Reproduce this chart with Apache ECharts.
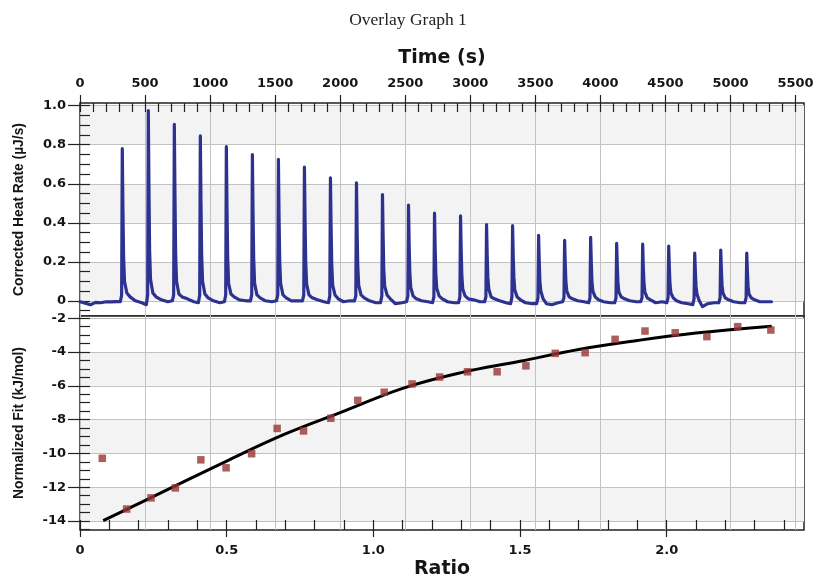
<!DOCTYPE html>
<html>
<head>
<meta charset="utf-8">
<script src="https://cdn.jsdelivr.net/npm/echarts@6/dist/echarts.min.js"></script>
<style>
html,body{margin:0;padding:0;background:#ffffff;}
#chart{width:816px;height:582px;}
</style>
</head>
<body>
<div id="chart"></div>
<script>
// ---------- text ----------
const chartTitle = 'Overlay Graph 1';
const timeAxisName = 'Time (s)';
const ratioAxisName = 'Ratio';
const heatAxisName = 'Corrected Heat Rate (\u00b5J/s)';
const fitAxisName = 'Normalized Fit (kJ/mol)';

// ---------- tick labels ----------
const timeTicks = [0, 500, 1000, 1500, 2000, 2500, 3000, 3500, 4000, 4500, 5000, 5500];
const heatTicks = [0, 0.2, 0.4, 0.6, 0.8, 1.0];
const ratioTicks = [0, 0.5, 1.0, 1.5, 2.0];
const fitTicks = [-14, -12, -10, -8, -6, -4, -2];

// ---------- axis ranges ----------
const timeRange = [0, 5565];
const heatRange = [-0.078, 1.014];
const ratioRange = [0, 2.468];
const fitRange = [-14.53, -1.87];

// ---------- raw thermogram (time s, heat rate uJ/s) ----------
const heatTime = [
  0, 40, 80, 120, 160, 200, 240, 280,
  310, 320, 325, 330, 335, 342, 360, 385, 425, 475,
  510, 520, 525, 530, 535, 542, 560, 585, 625, 675,
  710, 720, 725, 730, 735, 742, 760, 785, 825, 875,
  910, 920, 925, 930, 935, 942, 960, 985, 1025, 1075,
  1110, 1120, 1125, 1130, 1135, 1142, 1160, 1185, 1225, 1275,
  1310, 1320, 1325, 1330, 1335, 1342, 1360, 1385, 1425, 1475,
  1510, 1520, 1525, 1530, 1535, 1542, 1560, 1585, 1625, 1675,
  1710, 1720, 1725, 1730, 1735, 1742, 1760, 1785, 1825, 1875,
  1910, 1920, 1925, 1930, 1935, 1942, 1960, 1985, 2025, 2075,
  2110, 2120, 2125, 2130, 2135, 2142, 2160, 2185, 2225, 2275,
  2310, 2320, 2325, 2330, 2335, 2342, 2360, 2385, 2425, 2475,
  2510, 2520, 2525, 2530, 2535, 2542, 2560, 2585, 2625, 2675,
  2710, 2720, 2725, 2730, 2735, 2742, 2760, 2785, 2825, 2875,
  2910, 2920, 2925, 2930, 2935, 2942, 2960, 2985, 3025, 3075,
  3110, 3120, 3125, 3130, 3135, 3142, 3160, 3185, 3225, 3275,
  3310, 3320, 3325, 3330, 3335, 3342, 3360, 3385, 3425, 3475,
  3510, 3520, 3525, 3530, 3535, 3542, 3560, 3585, 3625, 3675,
  3710, 3720, 3725, 3730, 3735, 3742, 3760, 3785, 3825, 3875,
  3910, 3920, 3925, 3930, 3935, 3942, 3960, 3985, 4025, 4075,
  4110, 4120, 4125, 4130, 4135, 4142, 4160, 4185, 4225, 4275,
  4310, 4320, 4325, 4330, 4335, 4342, 4360, 4385, 4425, 4475,
  4510, 4520, 4525, 4530, 4535, 4542, 4560, 4585, 4625, 4675,
  4710, 4720, 4725, 4730, 4735, 4742, 4760, 4785, 4825, 4875,
  4910, 4920, 4925, 4930, 4935, 4942, 4960, 4985, 5025, 5075,
  5110, 5120, 5125, 5130, 5135, 5142, 5160, 5185, 5225, 5275,
  5315
];
const heatRate = [
  -0.005, -0.012, -0.02, -0.008, -0.01, -0.005, -0.006, -0.004,
  -0.005, 0.03, 0.78, 0.47, 0.23, 0.10, 0.04, 0.02, 0.00, -0.01,
  -0.02, 0.03, 0.975, 0.58, 0.26, 0.11, 0.04, 0.02, 0.005, -0.005,
  0.0, 0.03, 0.905, 0.54, 0.25, 0.10, 0.035, 0.02, 0.01, -0.005,
  -0.01, 0.03, 0.845, 0.50, 0.24, 0.10, 0.035, 0.015, 0.0, -0.01,
  -0.005, 0.03, 0.79, 0.47, 0.23, 0.09, 0.035, 0.02, 0.005, 0.0,
  0.0, 0.03, 0.75, 0.45, 0.22, 0.09, 0.03, 0.015, 0.0, -0.005,
  0.0, 0.03, 0.725, 0.43, 0.21, 0.09, 0.03, 0.015, 0.0, 0.0,
  0.0, 0.03, 0.685, 0.41, 0.20, 0.085, 0.03, 0.015, 0.005, -0.005,
  -0.01, 0.025, 0.63, 0.38, 0.19, 0.08, 0.03, 0.01, -0.005, 0.0,
  0.0, 0.025, 0.605, 0.36, 0.18, 0.08, 0.03, 0.015, 0.0, -0.01,
  -0.01, 0.025, 0.545, 0.33, 0.16, 0.075, 0.03, 0.01, -0.015, -0.01,
  -0.005, 0.025, 0.49, 0.29, 0.15, 0.07, 0.025, 0.01, 0.0, -0.005,
  -0.01, 0.02, 0.45, 0.27, 0.14, 0.065, 0.025, 0.01, -0.005, -0.01,
  -0.01, 0.02, 0.435, 0.26, 0.13, 0.06, 0.025, 0.01, 0.005, -0.005,
  -0.005, 0.02, 0.39, 0.23, 0.12, 0.06, 0.02, 0.01, 0.0, -0.01,
  -0.015, 0.02, 0.385, 0.23, 0.12, 0.055, 0.02, 0.005, -0.01, -0.015,
  -0.015, 0.015, 0.335, 0.20, 0.10, 0.05, 0.01, -0.015, -0.02, -0.01,
  -0.005, 0.015, 0.31, 0.19, 0.095, 0.05, 0.02, 0.01, 0.0, -0.005,
  -0.01, 0.015, 0.325, 0.20, 0.10, 0.05, 0.02, 0.005, -0.005, -0.01,
  -0.01, 0.015, 0.295, 0.18, 0.09, 0.045, 0.02, 0.01, 0.0, -0.005,
  -0.005, 0.015, 0.29, 0.17, 0.09, 0.045, 0.015, 0.005, -0.01, -0.005,
  -0.01, 0.015, 0.28, 0.17, 0.085, 0.04, 0.015, 0.0, -0.01, -0.015,
  -0.02, 0.01, 0.245, 0.15, 0.075, 0.035, 0.0, -0.03, -0.015, -0.01,
  -0.01, 0.015, 0.26, 0.16, 0.08, 0.04, 0.015, 0.005, -0.005, -0.01,
  -0.01, 0.015, 0.245, 0.15, 0.075, 0.035, 0.015, 0.005, -0.005, -0.005,
  -0.005
];

// ---------- integrated injections (molar ratio, kJ/mol) ----------
const injRatio = [0.076, 0.159, 0.242, 0.325, 0.412, 0.498, 0.585, 0.672, 0.762, 0.855,
  0.947, 1.037, 1.132, 1.226, 1.321, 1.422, 1.520, 1.620, 1.722, 1.824,
  1.926, 2.029, 2.137, 2.242, 2.355];
const injEnergy = [-10.29, -13.29, -12.63, -12.04, -10.38, -10.85, -10.02, -8.52, -8.67, -7.92,
  -6.86, -6.38, -5.89, -5.48, -5.17, -5.17, -4.82, -4.08, -4.04, -3.25,
  -2.76, -2.86, -3.09, -2.50, -2.70];

// ---------- fitted curve ----------
const fitRatio = [0.079, 0.3, 0.5, 0.7, 0.9, 1.1, 1.3, 1.5, 1.7, 1.9, 2.1, 2.358];
const fitValue = [-13.98, -12.13, -10.45, -8.85, -7.5, -6.15, -5.22, -4.55, -3.85, -3.32, -2.88, -2.47];

// ---------- helpers ----------
function zip(a, b) { return a.map(function (v, i) { return [v, b[i]]; }); }
function steps(from, to, step, dec) {
  const out = [];
  const n = Math.round((to - from) / step);
  for (let i = 0; i <= n; i++) out.push(+(from + i * step).toFixed(dec));
  return out;
}
const timeMinor = steps(0, 5500, 100, 0);
const ratioMinor = steps(0, 2.4, 0.1, 2);
const heatMinor = steps(-0.05, 1.0, 0.05, 3);
const fitMinor = steps(-14.5, -2.0, 0.5, 2);

const ink = '#151515';
const gridColor = '#c2c2c2';
const bandColor = '#f3f3f3';
const tickFont = { fontFamily: 'DejaVu Sans', fontWeight: 'bold', fontSize: 13, color: ink };
const axisNameFont = { fontFamily: 'DejaVu Sans', fontWeight: 'bold', fontSize: 19, color: ink };
const yNameFont = { fontFamily: 'Liberation Sans', fontWeight: 'bold', fontSize: 13.8, color: ink };
const tickLine = { color: '#222', width: 1.2 };
const noLine = { show: false, onZero: false };
function oneDec(v) { return v === 0 ? '0' : v.toFixed(1); }

const upperPanel = { left: 80, right: 12, top: 103, height: 213 };
const lowerPanel = { left: 80, right: 12, top: 316, height: 214 };
function panel(base, extra) { return Object.assign({ containLabel: false, outerBoundsMode: 'none' }, base, extra); }

const chart = echarts.init(document.getElementById('chart'), null, { renderer: 'canvas' });

const option = {
  animation: false,
  backgroundColor: '#ffffff',
  title: {
    text: chartTitle,
    left: 'center',
    top: 11,
    padding: 0,
    textStyle: { fontFamily: 'Liberation Serif', fontWeight: 'normal', fontSize: 17.5, color: '#222' }
  },
  grid: [
    panel(upperPanel, { show: true, backgroundColor: '#ffffff', borderColor: '#222', borderWidth: 1.5 }),
    panel(lowerPanel, { show: true, backgroundColor: '#ffffff', borderColor: '#222', borderWidth: 1.5 }),
    panel(upperPanel, { show: false }),
    panel(lowerPanel, { show: false })
  ],
  xAxis: [
    { // 0: time, major
      gridIndex: 0, type: 'value', position: 'top', min: timeRange[0], max: timeRange[1],
      name: timeAxisName, nameLocation: 'middle', nameGap: 35, nameTextStyle: axisNameFont,
      axisLine: noLine,
      axisTick: { show: true, inside: false, length: 8, customValues: timeTicks, lineStyle: tickLine },
      axisLabel: Object.assign({ customValues: timeTicks, margin: 13, formatter: function (v) { return String(v); } }, tickFont),
      splitLine: { show: true, lineStyle: { color: gridColor, width: 1 } }
    },
    { // 1: time, minor (inside)
      gridIndex: 2, type: 'value', position: 'top', min: timeRange[0], max: timeRange[1],
      axisLine: noLine,
      axisTick: { show: true, inside: true, length: 9, customValues: timeMinor, lineStyle: tickLine },
      axisLabel: { show: false }, splitLine: { show: false }
    },
    { // 2: ratio, major
      gridIndex: 1, type: 'value', position: 'bottom', min: ratioRange[0], max: ratioRange[1],
      name: ratioAxisName, nameLocation: 'middle', nameGap: 30, nameTextStyle: axisNameFont,
      axisLine: noLine,
      axisTick: { show: true, inside: false, length: 7, customValues: ratioTicks, lineStyle: tickLine },
      axisLabel: Object.assign({ customValues: ratioTicks, margin: 14, formatter: oneDec }, tickFont),
      splitLine: { show: false }
    },
    { // 3: ratio, minor (inside)
      gridIndex: 3, type: 'value', position: 'bottom', min: ratioRange[0], max: ratioRange[1],
      axisLine: noLine,
      axisTick: { show: true, inside: true, length: 10, customValues: ratioMinor, lineStyle: tickLine },
      axisLabel: { show: false }, splitLine: { show: false }
    },
    { // 4: time grid lines continued into lower panel
      gridIndex: 1, type: 'value', position: 'top', min: timeRange[0], max: timeRange[1],
      axisLine: noLine,
      axisTick: { show: false, customValues: timeTicks },
      axisLabel: { show: false, customValues: timeTicks },
      splitLine: { show: true, lineStyle: { color: gridColor, width: 1 } }
    }
  ],
  yAxis: [
    { // 0: heat rate, major
      gridIndex: 0, type: 'value', position: 'left', min: heatRange[0], max: heatRange[1],
      name: heatAxisName, nameLocation: 'middle', nameRotate: 90, nameGap: 54, nameTextStyle: yNameFont,
      axisLine: noLine,
      axisTick: { show: true, inside: false, length: 12, customValues: heatTicks, lineStyle: tickLine },
      axisLabel: Object.assign({ customValues: heatTicks, margin: 14, formatter: oneDec }, tickFont),
      splitLine: { show: true, lineStyle: { color: gridColor, width: 1 } },
      splitArea: { show: true, areaStyle: { color: [bandColor, '#ffffff'] } }
    },
    { // 1: heat rate, minor (inside)
      gridIndex: 2, type: 'value', position: 'left', min: heatRange[0], max: heatRange[1],
      axisLine: noLine,
      axisTick: { show: true, inside: true, length: 10, customValues: heatMinor, lineStyle: tickLine },
      axisLabel: { show: false }, splitLine: { show: false }
    },
    { // 2: fit, major
      gridIndex: 1, type: 'value', position: 'left', min: fitRange[0], max: fitRange[1],
      name: fitAxisName, nameLocation: 'middle', nameRotate: 90, nameGap: 54, nameTextStyle: yNameFont,
      axisLine: noLine,
      axisTick: { show: true, inside: false, length: 12, customValues: fitTicks, lineStyle: tickLine },
      axisLabel: Object.assign({ customValues: fitTicks, margin: 14, formatter: function (v) { return String(v); } }, tickFont),
      splitLine: { show: true, lineStyle: { color: gridColor, width: 1 } },
      splitArea: { show: true, areaStyle: { color: [bandColor, '#ffffff'] } }
    },
    { // 3: fit, minor (inside)
      gridIndex: 3, type: 'value', position: 'left', min: fitRange[0], max: fitRange[1],
      axisLine: noLine,
      axisTick: { show: true, inside: true, length: 10, customValues: fitMinor, lineStyle: tickLine },
      axisLabel: { show: false }, splitLine: { show: false }
    }
  ],
  series: [
    {
      name: 'Heat rate', type: 'line', xAxisIndex: 0, yAxisIndex: 0,
      data: zip(heatTime, heatRate),
      showSymbol: false, symbol: 'none', smooth: false,
      lineStyle: { color: '#2d3190', width: 3.2, join: 'round', cap: 'round' },
      z: 3
    },
    {
      name: 'Fit', type: 'line', xAxisIndex: 2, yAxisIndex: 2,
      data: zip(fitRatio, fitValue),
      showSymbol: false, symbol: 'none', smooth: 0.4,
      lineStyle: { color: '#000000', width: 3 },
      z: 3
    },
    {
      name: 'Injections', type: 'scatter', xAxisIndex: 2, yAxisIndex: 2,
      data: zip(injRatio, injEnergy),
      symbol: 'rect', symbolSize: 7.5,
      itemStyle: { color: '#973636' },
      z: 4
    }
  ]
};
chart.setOption(option);
</script>
</body>
</html>
